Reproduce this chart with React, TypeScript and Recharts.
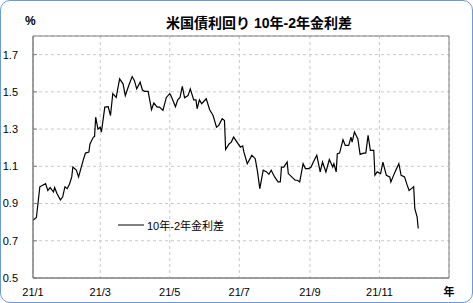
import { CartesianGrid, Legend, Line, LineChart, ReferenceArea, XAxis, YAxis } from "recharts";

// day of year (0 = Jan 1, 2021) and 10y-2y spread in %
const dayOfYear = [
  0, 3, 6, 11, 13, 15, 18, 19, 21, 24, 26, 28, 30, 32, 34, 35, 38, 40, 42, 44,
  46, 49, 50, 53, 54, 55, 57, 59, 60, 63, 66, 68, 70, 73, 76, 79, 81, 84, 87, 89,
  91, 94, 96, 98, 101, 104, 106, 109, 111, 114, 117, 120, 121, 125, 127, 129, 131, 133, 136, 138,
  141, 143, 144, 146, 148, 152, 155, 158, 161, 163, 166, 168, 169, 172, 174, 176, 179, 182, 184, 185,
  188, 190, 192, 195, 197, 199, 202, 205, 207, 209, 212, 215, 217, 218, 220, 223, 224, 227, 230, 232,
  234, 237, 239, 242, 244, 246, 249, 252, 254, 257, 260, 263, 264, 266, 267, 269, 272, 274, 277, 279,
  280, 282, 285, 287, 290, 292, 294, 296, 299, 300, 302, 305, 307, 310, 313, 314, 316, 318, 321, 323,
  326, 328, 330, 332, 334, 335, 337, 338,
];
const spread = [
  0.81, 0.825, 0.99, 1.007, 0.97, 0.986, 0.962, 0.986, 0.954, 0.92, 0.935, 0.99, 0.98, 1.004, 1.043, 1.096, 1.08, 1.043, 1.088, 1.132,
  1.171, 1.177, 1.22, 1.257, 1.26, 1.364, 1.3, 1.31, 1.284, 1.418, 1.42, 1.373, 1.49, 1.47, 1.57, 1.543, 1.48, 1.534, 1.582, 1.56,
  1.516, 1.552, 1.51, 1.503, 1.503, 1.404, 1.44, 1.418, 1.418, 1.4, 1.47, 1.49, 1.48, 1.42, 1.457, 1.47, 1.529, 1.468, 1.48, 1.516,
  1.457, 1.457, 1.409, 1.457, 1.436, 1.463, 1.404, 1.373, 1.31, 1.32, 1.356, 1.346, 1.19, 1.22, 1.23, 1.257, 1.23, 1.203, 1.21, 1.177,
  1.114, 1.136, 1.159, 1.141, 1.07, 0.98, 1.079, 1.07, 1.057, 1.079, 1.043, 1.016, 1.016, 1.096, 1.096, 1.123, 1.061, 1.043, 1.025, 1.025,
  1.016, 1.114, 1.088, 1.088, 1.096, 1.123, 1.159, 1.07, 1.123, 1.07, 1.136, 1.096, 1.114, 1.07, 1.168, 1.171, 1.243, 1.212, 1.212, 1.257,
  1.23, 1.284, 1.248, 1.164, 1.171, 1.171, 1.266, 1.186, 1.186, 1.052, 1.07, 1.061, 1.123, 1.052, 1.043, 1.016, 1.046, 1.075, 1.114, 1.052,
  1.043, 1.004, 0.97, 0.98, 0.99, 0.873, 0.829, 0.766,
];

const xTicks = [0, 59, 120, 181, 243, 304, 365];
const xTickLabels = ["21/1", "21/3", "21/5", "21/7", "21/9", "21/11", "年"];
const yTicks = [0.5, 0.7, 0.9, 1.1, 1.3, 1.5, 1.7];

const seriesName = "10年-2年金利差";
const title = "米国債利回り 10年-2年金利差";

const data = dayOfYear.map((d, i) => ({ day: d, value: spread[i] }));

const FONT = '"Liberation Sans", "Noto Sans CJK JP", sans-serif';

function XTick(props: any) {
  const { x, y, payload } = props;
  const idx = xTicks.indexOf(payload.value);
  const label = xTickLabels[idx] ?? "";
  const isUnit = idx === xTicks.length - 1;
  return (
    <text x={x} y={y} dy="0.71em" textAnchor="middle" fontSize={11} fontFamily={FONT} fill="#000" fontWeight={isUnit ? 700 : 400}>
      {label}
    </text>
  );
}

function YTick(props: any) {
  const { x, y, payload } = props;
  return (
    <g>
      <line x1={x + 15} x2={x + 19} y1={y} y2={y} stroke="#808080" />
      <text x={x} y={y} dy="0.355em" textAnchor="end" fontSize={11} fontFamily={FONT} fill="#000">
        {payload.value.toFixed(1)}
      </text>
    </g>
  );
}

function LegendBox() {
  return (
    <div style={{ display: "flex", alignItems: "center", fontFamily: FONT, fontSize: 11, color: "#000" }}>
      <svg width={28} height={10}>
        <line x1={0} x2={26} y1={5} y2={5} stroke="#000" strokeWidth={1} />
      </svg>
      <span style={{ marginLeft: 1 }}>{seriesName}</span>
    </div>
  );
}

export default function App() {
  return (
    <div style={{ position: "fixed", left: 0, top: 0, width: 473, height: 303, background: "#fff" }}>
      <LineChart width={473} height={303} data={data} margin={{ top: 36, right: 24, bottom: 0, left: 0 }} style={{ position: "absolute", left: 0, top: 0 }}>
        <CartesianGrid stroke="#c8c8c8" strokeDasharray="3 3" />
        <XAxis
          dataKey="day"
          type="number"
          domain={[0, 365]}
          ticks={xTicks}
          height={25}
          tickSize={0}
          tickMargin={10}
          axisLine={{ stroke: "#808080" }}
          tickLine={false}
          tick={<XTick />}
          interval={0}
        />
        <YAxis
          type="number"
          domain={[0.5, 1.8]}
          ticks={yTicks}
          width={33}
          tickSize={0}
          tickMargin={15}
          axisLine={{ stroke: "#808080" }}
          tickLine={false}
          tick={<YTick />}
          interval={0}
        />
        <ReferenceArea x1={0} x2={365} y1={0.5} y2={1.8} fill="none" stroke="#808080" strokeWidth={1} />
        <Legend
          layout="vertical"
          align="center"
          verticalAlign="middle"
          content={<LegendBox />}
          wrapperStyle={{ left: 118, top: 217, width: "auto", height: "auto" }}
        />
        <Line
          type="linear"
          dataKey="value"
          name={seriesName}
          stroke="#000"
          strokeWidth={1.2}
          dot={false}
          isAnimationActive={false}
        />
      </LineChart>
      <div style={{ position: "absolute", left: 0, top: 12, width: 473, textAlign: "center", paddingLeft: 45, boxSizing: "border-box", fontFamily: FONT, fontSize: 14, fontWeight: 700 }}>
        {title}
      </div>
      <div style={{ position: "absolute", left: 25, top: 14, fontFamily: FONT, fontSize: 12, fontWeight: 700 }}>%</div>
      <div style={{ position: "absolute", left: 0, top: 0, width: 473, height: 303, boxSizing: "border-box", border: "1px solid #6a9bd8", borderRadius: 10, pointerEvents: "none" }} />
    </div>
  );
}
